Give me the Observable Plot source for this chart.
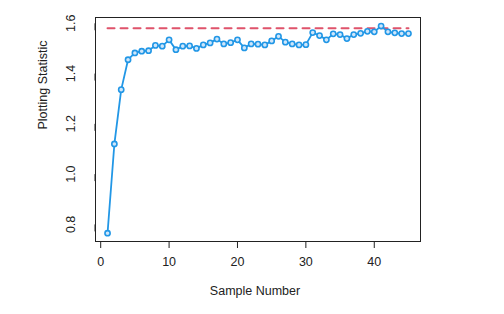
<!DOCTYPE html>
<html>
<head>
<meta charset="utf-8">
<script src="https://cdn.jsdelivr.net/npm/d3@7"></script>
<script src="https://cdn.jsdelivr.net/npm/@observablehq/plot@0.6"></script>
<style>
  html, body { margin: 0; padding: 0; background: #fff; }
  #chart { width: 504px; height: 314px; }
</style>
</head>
<body>
<div id="chart"></div>
<script>
// Data
const sampleNumbers = d3.range(1, 46);
const plottingStatistic = [
  0.765, 1.120, 1.336, 1.455, 1.482, 1.489, 1.491, 1.512, 1.509, 1.534,
  1.495, 1.509, 1.510, 1.500, 1.514, 1.522, 1.537, 1.518, 1.523, 1.534,
  1.502, 1.518, 1.517, 1.514, 1.530, 1.548, 1.525, 1.518, 1.514, 1.515,
  1.563, 1.551, 1.534, 1.558, 1.555, 1.539, 1.555, 1.560, 1.568, 1.566,
  1.589, 1.566, 1.562, 1.559, 1.559
];
const limitValue = 1.58;
const limitRange = [1, 45];
const xTicks = [0, 10, 20, 30, 40];
const yTicks = [0.8, 1.0, 1.2, 1.4, 1.6];
const xLabel = "Sample Number";
const yLabel = "Plotting Statistic";

const points = sampleNumbers.map((s, i) => ({x: s, y: plottingStatistic[i]}));
const limit = limitRange.map(x => ({x, y: limitValue}));

const blue = "#2297E6";
const red = "#DF536B";
const ink = "#222222";

const chart = Plot.plot({
  width: 504,
  height: 314,
  marginLeft: 95,
  marginRight: 84,
  marginTop: 17,
  marginBottom: 73,
  style: {fontFamily: "'Liberation Sans', Arial, sans-serif", fontSize: "12px", color: ink, background: "#fff"},
  x: {domain: [-0.76, 46.76]},
  y: {domain: [0.732, 1.623]},
  marks: [
    Plot.line(limit, {x: "x", y: "y", stroke: red, strokeWidth: 2, strokeDasharray: "7,6"}),
    Plot.line(points, {x: "x", y: "y", stroke: blue, strokeWidth: 1.8}),
    Plot.dot(points, {x: "x", y: "y", r: 2.6, stroke: blue, strokeWidth: 1.6, fill: "#cfe6fa"}),
    Plot.frame({stroke: ink, strokeWidth: 1}),
    Plot.axisX({ticks: xTicks, tickSize: 7, tickPadding: 9, label: null, stroke: ink, fill: ink, fontSize: 12.5}),
    Plot.axisY({ticks: yTicks, tickSize: 7, tickPadding: 18, label: null, stroke: ink, fill: ink, fontSize: 12.5,
      rotate: -90, textAnchor: "middle", tickFormat: d => d.toFixed(1)}),
    Plot.text([xLabel], {frameAnchor: "bottom", dy: 53, dx: -3, text: d => d, fill: ink, fontSize: 12.5}),
    Plot.text([yLabel], {frameAnchor: "left", dx: -53, rotate: -90, text: d => d, fill: ink, fontSize: 12.5})
  ]
});
document.getElementById("chart").appendChild(chart);
</script>
</body>
</html>
